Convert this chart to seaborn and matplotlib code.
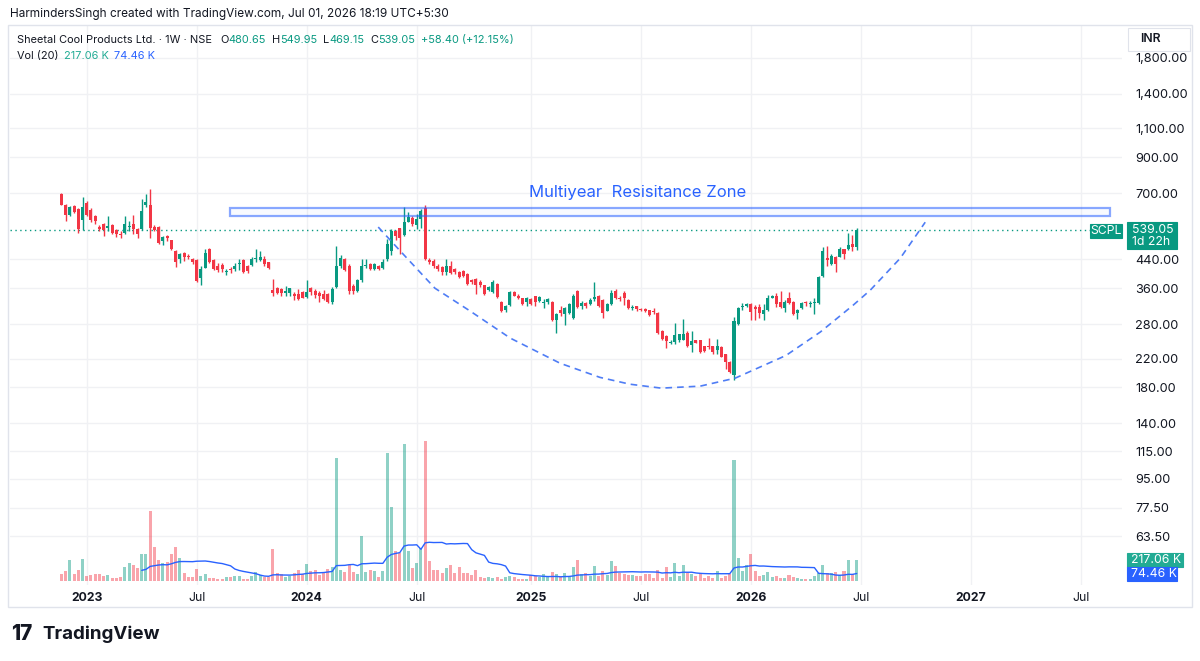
import numpy as np
import pandas as pd
import matplotlib
matplotlib.use("Agg")
import matplotlib.pyplot as plt
import matplotlib.dates as mdates
from matplotlib.patches import Rectangle
from matplotlib.ticker import FixedLocator, FixedFormatter, NullLocator
import seaborn as sns

# Sheetal Cool Products Ltd. (NSE: SCPL), weekly bars
first_week = "2022-11-21"

opens = [695, 645, 601, 639, 628, 580, 654, 624, 598, 553, 563, 550, 561, 540, 527, 529, 553, 563, 543, 543,
         643, 645, 553, 551, 500, 518, 504, 468, 442, 460, 451, 443, 439, 386, 416, 473, 438, 421, 424, 404,
         412, 412, 426, 439, 421, 423, 441, 439, 442, 431, 356, 361, 358, 348, 348, 346, 346, 351, 339, 361,
         354, 349, 346, 346, 328, 362, 421, 440, 421, 365, 354, 380, 420, 426, 412, 421, 416, 440, 468, 537,
         547, 523, 573, 587, 560, 582, 632, 438, 436, 421, 418, 403, 421, 412, 402, 405, 398, 380, 385, 377,
         367, 356, 350, 372, 328, 310, 320, 351, 342, 335, 326, 334, 342, 330, 324, 327, 327, 288, 310, 301,
         303, 293, 353, 318, 324, 323, 333, 342, 331, 308, 322, 353, 336, 349, 331, 313, 318, 311, 311, 309,
         306, 303, 266, 258, 246, 247, 250, 251, 264, 242, 250, 250, 240, 240, 240, 233, 239, 227, 215, 196,
         281, 315, 318, 322, 316, 315, 301, 309, 337, 342, 328, 313, 335, 328, 302, 313, 326, 322, 324, 325,
         391, 445, 425, 449, 449, 473, 473, 491, 480.65]
highs = [699, 650, 638, 645, 632, 680, 663, 630, 600, 560, 567, 598, 565, 545, 537, 598, 576, 601, 548, 671,
         695, 720, 560, 556, 518, 522, 506, 470, 460, 465, 458, 445, 442, 420, 474, 477, 442, 430, 430, 413,
         418, 430, 443, 443, 424, 447, 473, 468, 452, 432, 385, 363, 360, 365, 361, 350, 358, 354, 380, 363,
         358, 352, 355, 347, 362, 484, 455, 446, 425, 372, 383, 442, 440, 430, 430, 424, 440, 508, 545, 540,
         550, 633, 613, 595, 605, 628, 645, 445, 441, 425, 420, 440, 436, 415, 406, 410, 400, 385, 386, 380,
         368, 366, 380, 373, 329, 320, 352, 353, 346, 336, 338, 336, 342, 342, 333, 336, 330, 303, 318, 315,
         325, 345, 355, 330, 326, 336, 376, 344, 333, 324, 355, 359, 340, 353, 333, 320, 318, 314, 314, 310,
         314, 305, 268, 259, 250, 282, 262, 291, 266, 266, 251, 251, 241, 254, 241, 252, 241, 228, 217, 295,
         316, 324, 324, 324, 320, 322, 322, 344, 343, 348, 353, 331, 350, 329, 312, 326, 330, 330, 335, 392,
         480, 484, 456, 451, 480, 475, 530, 523, 549.95]
lows = [642, 577, 598, 610, 530, 540, 596, 572, 565, 538, 520, 537, 525, 514, 511, 525, 537, 525, 513, 541,
        635, 511, 537, 490, 487, 500, 471, 418, 430, 436, 440, 426, 377, 369, 414, 428, 410, 404, 404, 396,
        399, 405, 410, 400, 400, 420, 431, 436, 420, 413, 340, 345, 340, 342, 342, 332, 332, 335, 336, 343,
        336, 328, 332, 324, 322, 360, 416, 405, 345, 346, 350, 375, 415, 408, 408, 408, 412, 436, 455, 505,
        457, 519, 570, 555, 543, 547, 438, 426, 416, 405, 395, 396, 398, 398, 386, 388, 368, 372, 346, 362,
        344, 352, 348, 337, 304, 304, 318, 340, 334, 320, 318, 320, 318, 326, 313, 322, 286, 264, 296, 279,
        300, 290, 314, 312, 314, 320, 330, 316, 292, 306, 320, 333, 330, 320, 312, 309, 306, 306, 304, 296,
        300, 261, 250, 237, 244, 244, 248, 250, 239, 230, 245, 229, 231, 236, 228, 228, 222, 204, 199, 190,
        278, 309, 316, 288, 288, 292, 288, 307, 335, 315, 314, 305, 322, 299, 290, 311, 318, 316, 300, 323,
        389, 419, 423, 402, 447, 440, 470, 466, 469.15]
closes = [645, 601, 635, 615, 543, 635, 601, 580, 575, 546, 540, 555, 529, 525, 523, 563, 557, 543, 527, 616,
          660, 547, 541, 495, 514, 511, 473, 431, 456, 447, 447, 431, 378, 413, 461, 431, 412, 410, 413, 406,
          408, 421, 430, 402, 405, 442, 445, 447, 426, 416, 349, 348, 348, 354, 360, 340, 334, 337, 351, 351,
          343, 340, 334, 328, 359, 421, 445, 410, 352, 352, 380, 420, 424, 412, 426, 412, 431, 490, 537, 518,
          512, 573, 594, 563, 582, 618, 442, 431, 421, 412, 403, 421, 400, 402, 390, 393, 372, 376, 368, 367,
          346, 363, 377, 338, 307, 318, 351, 342, 336, 322, 335, 322, 327, 338, 326, 334, 288, 301, 302, 313,
          322, 342, 316, 325, 318, 331, 338, 318, 303, 322, 349, 335, 334, 335, 314, 315, 312, 310, 308, 298,
          304, 263, 252, 249, 248, 259, 261, 262, 240, 249, 246, 230, 232, 239, 230, 240, 223, 215, 201, 287,
          313, 317, 322, 305, 311, 303, 309, 337, 341, 322, 316, 328, 325, 301, 310, 325, 324, 324, 326, 388,
          466, 437, 450, 426, 473, 456, 488, 480.65, 539.05]
volume_k = [70, 105, 210, 66, 112, 227, 52, 56, 70, 73, 52, 56, 31, 31, 38, 140, 185, 164, 136, 276,
            276, 721, 346, 217, 182, 192, 273, 346, 238, 84, 38, 38, 126, 45, 70, 31, 24, 21, 21, 38,
            42, 52, 49, 21, 21, 52, 94, 59, 35, 35, 325, 77, 70, 42, 52, 84, 112, 70, 175, 98,
            112, 63, 94, 126, 140, 1274, 112, 94, 164, 94, 70, 469, 94, 112, 101, 42, 101, 1326, 770, 305,
            287, 1425, 305, 130, 189, 340, 1453, 207, 112, 112, 77, 137, 164, 77, 140, 84, 77, 59, 112, 35,
            24, 35, 31, 42, 21, 42, 52, 38, 14, 14, 14, 56, 52, 35, 66, 35, 91, 70, 42, 84,
            42, 143, 210, 70, 77, 52, 154, 49, 101, 56, 203, 154, 77, 73, 56, 59, 52, 49, 66, 73,
            31, 108, 31, 140, 42, 182, 49, 161, 84, 70, 49, 73, 28, 52, 28, 101, 28, 52, 70, 1260,
            238, 105, 164, 273, 105, 49, 59, 91, 35, 48, 28, 28, 60, 42, 28, 17.2, 17, 17, 52, 80,
            160, 77, 84, 91, 63, 98, 212, 70, 217.06]

price_ticks = [1800, 1400, 1100, 900, 700, 440, 360, 280, 220, 180, 140, 115, 95, 77.5, 63.5]
time_ticks = ["2023-01-02", "2023-07-03", "2024-01-01", "2024-07-01", "2025-01-06",
              "2025-07-07", "2026-01-05", "2026-07-06", "2027-01-04", "2027-07-05"]
time_labels = ["2023", "Jul", "2024", "Jul", "2025", "Jul", "2026", "Jul", "2027", "Jul"]

# drawings on the chart
zone_start, zone_end = "2023-08-27", "2027-08-22"
zone_low, zone_high = 596, 630
zone_text = "Multiyear  Resisitance Zone"
zone_text_date, zone_text_price = "2025-07-02", 705
arc_week = [74.9, 80.1, 88.3, 96.6, 106.1, 117.9, 127.3, 134.4, 141.8, 151.0,
            159.3, 171.3, 179.4, 187.2, 191.2, 198.3, 204.2]
arc_price = [552, 467, 360, 307, 254, 213, 193, 184, 179, 181.5,
             192, 225, 265, 320, 355, 444, 571]

UP = "#089981"
DOWN = "#F23645"
BLUE = "#2962FF"
DARK = "#131722"
GRID = "#F0F1F4"
W, H = 1200, 661


def fx(px):
    return px / W


def fy(py):
    return 1 - py / H


sns.set_style("white")
plt.rcParams["font.family"] = ["Inter", "DejaVu Sans"]

dates = pd.date_range(first_week, periods=len(closes), freq="7D")
x = mdates.date2num(dates)
o, hi, lo, c = (np.array(a, dtype=float) for a in (opens, highs, lows, closes))
up = c >= o
colors = np.where(up, UP, DOWN)
vol = np.array(volume_k) * 1000
ma = pd.Series(vol).rolling(20).mean()

fig = plt.figure(figsize=(12, 6.61), dpi=100)
ax = fig.add_axes([fx(10), fy(585), fx(1122) - fx(10), (585 - 25) / H])
axv = ax.twinx()
axv.patch.set_visible(False)

# grid
for p in price_ticks:
    ax.axhline(p, color=GRID, lw=1, zorder=0)
for t in mdates.date2num(pd.to_datetime(time_ticks)):
    ax.axvline(t, color=GRID, lw=1, zorder=0)

# candles
ax.vlines(x, lo, hi, colors=colors, lw=1, zorder=3)
body_low = np.minimum(o, c)
body_h = np.maximum(np.abs(c - o), body_low * 0.004)
ax.bar(x, body_h, bottom=body_low, width=5, color=colors, linewidth=0, zorder=4)

# resistance zone + cup arc
zs, ze = mdates.date2num(pd.to_datetime([zone_start, zone_end]))
ax.add_patch(Rectangle((zs, zone_low), ze - zs, zone_high - zone_low,
                       facecolor=(0.16, 0.38, 1, 0.03), edgecolor=(0.16, 0.38, 1, 0.55),
                       lw=1.6, zorder=5))
ax.text(mdates.date2num(pd.Timestamp(zone_text_date)), zone_text_price, zone_text,
        color=BLUE, fontsize=12, ha="center", va="center", zorder=6)
ax.plot(x[0] + np.array(arc_week) * 7, arc_price, color="#4F7DF5", lw=1.2,
        ls=(0, (4, 3)), zorder=5)

# last price line
ax.axhline(c[-1], xmin=0, xmax=(1090 - 10) / (1122 - 10), color=UP, lw=1,
           ls=(0, (1, 2.5)), zorder=2)

# volume pane
axv.bar(x, vol, width=5, color=colors, alpha=0.45, linewidth=0)
sns.lineplot(x=x, y=ma, ax=axv, color=BLUE, lw=1)

ax.set_yscale("log")
ax.set_ylim(45.2, 2267)
axv.set_ylim(-45e3, 5.78e6)
ax.set_xlim(x[0] - 85, x[0] + 1755)

ax.yaxis.tick_right()
ax.yaxis.set_major_locator(FixedLocator(price_ticks))
ax.yaxis.set_major_formatter(FixedFormatter([f"{p:,.2f}" for p in price_ticks]))
ax.yaxis.set_minor_locator(NullLocator())
ax.tick_params(axis="y", which="both", length=0, pad=9.5, labelsize=9.2, labelcolor=DARK)
ax.set_xticks(mdates.date2num(pd.to_datetime(time_ticks)))
ax.set_xticklabels(time_labels)
ax.tick_params(axis="x", length=0, pad=5, labelsize=8.8, labelcolor=DARK)
for lbl in ax.get_xticklabels():
    if lbl.get_text() != "Jul":
        lbl.set_fontweight("bold")
axv.set_yticks([])
axv.set_xlabel("")
axv.set_ylabel("")
for a in (ax, axv):
    for s in a.spines.values():
        s.set_visible(False)


def box(x1, y1, x2, y2, fc, ec=None):
    fig.patches.append(Rectangle((fx(x1), fy(y2)), fx(x2) - fx(x1), fy(y1) - fy(y2),
                                 transform=fig.transFigure, facecolor=fc,
                                 edgecolor=ec or fc, lw=0.8, zorder=10))


def label(px, py, s, color="white", size=8.8, ha="left", weight="normal"):
    fig.text(fx(px), fy(py), s, color=color, fontsize=size, ha=ha, va="center",
             weight=weight, zorder=11)


# panel frame
fig.patches.append(Rectangle((fx(8), fy(607)), fx(1192) - fx(8), fy(25) - fy(607),
                             transform=fig.transFigure, fill=False, edgecolor="#E0E3EB",
                             lw=1, zorder=12))

# price scale tags
box(1127, 222, 1177, 249, UP)
label(1132, 229.5, f"{c[-1]:.2f}")
label(1132, 242, "1d 22h")
box(1090, 224, 1122, 238, UP)
label(1106, 231, "SCPL", ha="center")
vol_last = f"{vol[-1] / 1000:.2f} K"
ma_last = f"{ma.iloc[-1] / 1000:.2f} K"
box(1127, 553, 1183, 567, "#22AB94")
label(1131, 560, vol_last)
box(1127, 567, 1177, 581, BLUE)
label(1131, 574, ma_last)
box(1128, 28, 1190, 51, "white", "#E0E3EB")
label(1140, 39.5, "INR", color=DARK, weight="semibold")

# header
label(10, 14, "HarmindersSingh created with TradingView.com, Jul 01, 2026 18:19 UTC+5:30",
      color=DARK, size=8.5)


def chain(parts, px, py, size=7.9):
    t = fig.text(fx(px), fy(py), parts[0][0], color=parts[0][1], fontsize=size,
                 ha="left", va="center", zorder=11)
    for s, col, gap in parts[1:]:
        t = ax.annotate(s, xy=(1, 0), xycoords=t, xytext=(gap * 0.72, 0),
                        textcoords="offset points", ha="left", va="bottom",
                        color=col, fontsize=size, annotation_clip=False)


chg = c[-1] - c[-2]
chain([("Sheetal Cool Products Ltd. · 1W · NSE", DARK),
       ("O", DARK, 8), (f"{o[-1]:.2f}", UP, 0),
       ("H", DARK, 6), (f"{hi[-1]:.2f}", UP, 0),
       ("L", DARK, 6), (f"{lo[-1]:.2f}", UP, 0),
       ("C", DARK, 6), (f"{c[-1]:.2f}", UP, 0),
       (f"+{chg:.2f} (+{chg / c[-2] * 100:.2f}%)", UP, 6)], 17, 40)
chain([("Vol (20)", DARK), (vol_last, "#22AB94", 6), (ma_last, BLUE, 5)], 17, 56)

# logo
label(11, 634, "17", color=DARK, size=15, weight="heavy")
label(42, 634, "TradingView", color=DARK, size=13.5, weight="bold")

fig.savefig("out.png", dpi=100)
